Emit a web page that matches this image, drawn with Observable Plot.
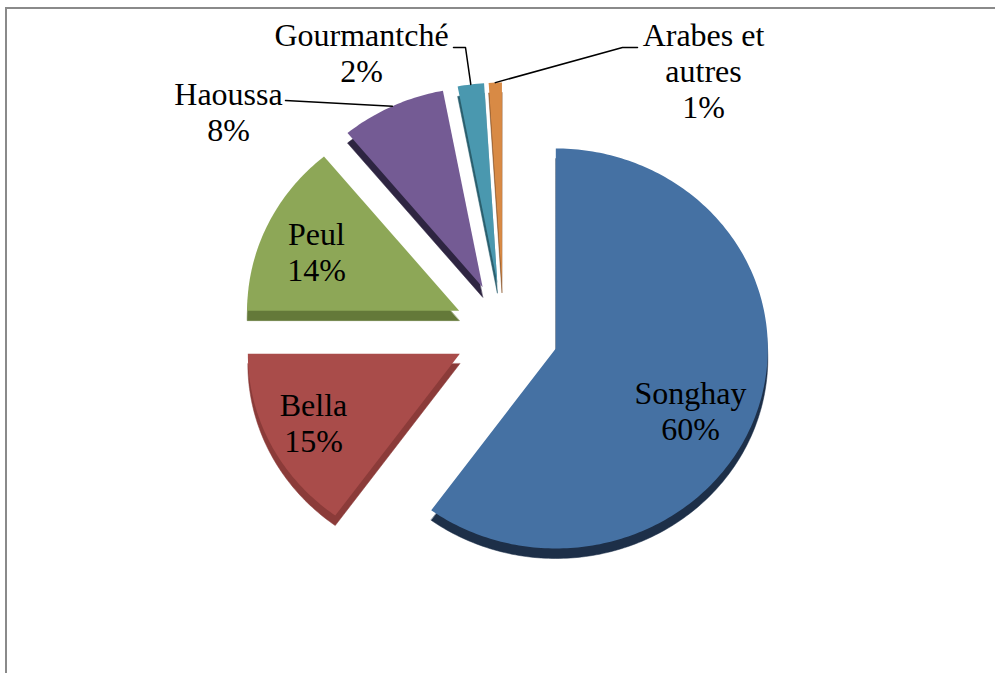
<!DOCTYPE html>
<html><head><meta charset="utf-8">
<script src="https://cdn.jsdelivr.net/npm/d3@7"></script>
<script src="https://cdn.jsdelivr.net/npm/@observablehq/plot@0.6"></script>
<style>
html,body{margin:0;padding:0;background:#fff;overflow:hidden;}
#wrap{position:relative;width:995px;height:673px;overflow:hidden;}
#frame{position:absolute;left:5px;top:7px;width:1100px;height:800px;border-top:2px solid #8a8a8a;border-left:2px solid #8a8a8a;pointer-events:none;}
</style></head><body><div id="wrap"><div id="chart"></div><div id="frame"></div></div>
<script>
// ---- data ----
const categories = ["Songhay", "Bella", "Peul", "Haoussa", "Gourmantché", "Arabes et autres"];
const values = [60, 15, 14, 8, 2, 1];
const labelNames = ["Songhay", "Bella", "Peul", "Haoussa", "Gourmantché", "Arabes et\nautres"];

// ---- styles ----
const topColors = ["#4571A3", "#A94C4A", "#8DA757", "#745B94", "#4A98AF", "#D88A45"];
const sideColors = ["#1D2F48", "#8B3B39", "#647939", "#2E2541", "#2A5F6E", "#8A5529"];

// ---- layout (pixels) ----
const W = 995, H = 673;
const center = {x: 503, y: 331};
const rx = 212, ry = 200, depth = 10;
const explode = [55, 49, 49, 49, 49, 49];
const labelPos = [[690, 410], [313, 422], [316, 251], [228, 111], [361, 52], [703, 70]];
// leader start points for outside labels (null = inside label)
const leaderStart = [null, null, null, [[285, 100]], [[453, 47], [465, 47]], [[637, 47], [622, 47]]];

const total = d3.sum(values);
let cum = 0;
const slices = values.map((v, i) => {
  const a0 = cum / total * 2 * Math.PI;
  cum += v;
  const a1 = cum / total * 2 * Math.PI;
  const mid = (a0 + a1) / 2;
  const ax = center.x + explode[i] * Math.sin(mid);
  const ay = center.y - explode[i] * Math.cos(mid);
  return {i, name: categories[i], v, a0, a1, mid, ax, ay};
});

function slicePts(s, dy, key) {
  const pts = [{key, x: s.ax, y: s.ay + dy}];
  const n = Math.max(3, Math.ceil((s.a1 - s.a0) / (Math.PI / 180)));
  for (let k = 0; k <= n; k++) {
    const a = s.a0 + (s.a1 - s.a0) * k / n;
    pts.push({key, x: s.ax + rx * Math.sin(a), y: s.ay + dy - ry * Math.cos(a)});
  }
  return pts;
}

const sidePts = slices.flatMap(s => slicePts(s, depth, s.name + " side"));
const topPts = slices.flatMap(s => slicePts(s, 0, s.name));

const leaderPts = [];
slices.forEach((s, i) => {
  if (!leaderStart[i]) return;
  leaderStart[i].forEach(p => leaderPts.push({key: s.name, x: p[0], y: p[1]}));
  leaderPts.push({key: s.name, x: s.ax + rx * Math.sin(s.mid), y: s.ay - ry * Math.cos(s.mid)});
});

const labels = slices.map((s, i) => ({
  x: labelPos[i][0], y: labelPos[i][1],
  text: labelNames[i] + "\n" + values[i] + "%"
}));

const colorDomain = [...categories, ...categories.map(c => c + " side")];
const colorRange = [...topColors, ...sideColors];

const font = "'Liberation Serif', 'Times New Roman', serif";

const chart = Plot.plot({
  width: W, height: H,
  margin: 0,
  x: {domain: [0, W], range: [0, W], axis: null},
  y: {domain: [0, H], range: [0, H], axis: null},
  color: {type: "ordinal", domain: colorDomain, range: colorRange},
  style: {background: "transparent"},
  marks: [
    Plot.line(sidePts, {x: "x", y: "y", z: "key", fill: "key", stroke: "key", strokeWidth: 0.5, curve: "linear-closed"}),
    Plot.line(topPts, {x: "x", y: "y", z: "key", fill: "key", stroke: "none", curve: "linear-closed"}),
    Plot.line(leaderPts, {x: "x", y: "y", z: "key", stroke: "#000", strokeWidth: 1.5}),
    Plot.text(labels, {x: "x", y: "y", text: "text", fontSize: 32, fontFamily: font, fill: "#000", lineHeight: 1.12})
  ]
});
document.getElementById("chart").appendChild(chart);
</script>
</body></html>
